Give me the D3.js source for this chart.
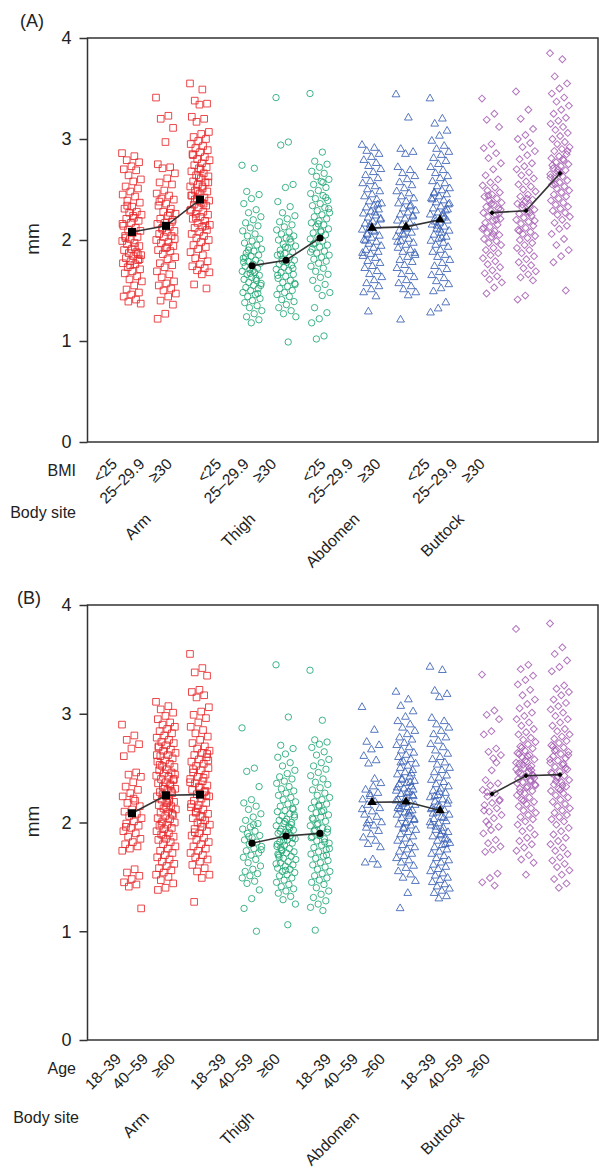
<!DOCTYPE html>
<html>
<head>
<meta charset="utf-8">
<script src="https://cdn.jsdelivr.net/npm/d3@7"></script>
<style>
  body { margin: 0; background: #fff; }
  svg text { font-family: "Liberation Sans", Arial, Helvetica, sans-serif; fill: #222; }
</style>
</head>
<body>
<svg width="599" height="1173"></svg>
<script>
const sites = ["Arm", "Thigh", "Abdomen", "Buttock"];
const bmiLevels = ["<25", "25–29.9", "≥30"];
const ageLevels = ["18–39", "40–59", "≥60"];
const yTicks = [0, 1, 2, 3, 4];

// (A) thickness by BMI, one list per BMI group
const armBmi = [
  [2.86,2.83,2.79,2.77,2.73,2.70,2.69,2.64,2.60,2.58,2.53,2.51,2.48,2.45,2.43,2.39,2.37,2.33,2.31,2.28,2.27,2.25,2.22,2.21,2.19,2.17,2.14,2.12,2.10,2.09,2.07,2.04,2.03,2.01,1.99,1.97,1.96,1.94,1.91,1.90,1.88,1.87,1.85,1.84,1.82,1.80,1.79,1.77,1.76,1.73,1.71,1.69,1.67,1.64,1.61,1.59,1.55,1.51,1.48,1.46,1.44,1.41,1.39,1.37,2.24,2.02,1.86,1.75,2.16,1.93,2.34,1.81],
  [3.41,3.23,3.20,3.11,2.97,2.75,2.72,2.71,2.66,2.61,2.57,2.55,2.49,2.46,2.44,2.41,2.40,2.36,2.34,2.31,2.28,2.26,2.24,2.21,2.20,2.17,2.16,2.13,2.11,2.09,2.08,2.06,2.04,2.03,2.00,1.98,1.97,1.94,1.92,1.90,1.89,1.86,1.83,1.81,1.77,1.75,1.73,1.69,1.66,1.63,1.59,1.57,1.55,1.52,1.50,1.47,1.44,1.40,1.36,1.27,1.22,2.27,2.12,2.01,1.93,2.38,2.18],
  [3.55,3.49,3.38,3.35,3.34,3.22,3.20,3.17,3.07,3.05,3.02,3.00,2.98,2.95,2.93,2.91,2.89,2.87,2.85,2.82,2.80,2.79,2.76,2.74,2.72,2.71,2.68,2.66,2.64,2.63,2.61,2.58,2.57,2.55,2.53,2.51,2.49,2.48,2.46,2.44,2.42,2.41,2.39,2.37,2.35,2.34,2.32,2.30,2.28,2.26,2.25,2.23,2.21,2.19,2.17,2.15,2.13,2.12,2.10,2.08,2.06,2.04,2.02,2.00,1.98,1.95,1.93,1.91,1.88,1.85,1.82,1.79,1.76,1.74,1.72,1.70,1.68,1.66,1.56,1.52,2.62,2.44,2.36,2.22,2.57,2.70,2.84,2.14,2.48,2.29,2.53,2.40]
];
const thighBmi = [
  [2.74,2.71,2.48,2.45,2.41,2.36,2.30,2.27,2.23,2.20,2.17,2.14,2.12,2.09,2.06,2.04,2.01,1.99,1.97,1.95,1.93,1.91,1.89,1.87,1.85,1.84,1.82,1.80,1.79,1.77,1.76,1.74,1.72,1.71,1.69,1.68,1.66,1.65,1.63,1.61,1.60,1.58,1.57,1.55,1.53,1.52,1.50,1.48,1.46,1.44,1.42,1.40,1.38,1.35,1.33,1.30,1.27,1.24,1.21,1.18,1.78,1.62,1.90,1.55,1.70,1.83,1.47,1.67],
  [3.41,2.97,2.94,2.55,2.52,2.38,2.33,2.27,2.24,2.21,2.18,2.15,2.13,2.10,2.08,2.06,2.04,2.02,2.00,1.98,1.96,1.94,1.92,1.90,1.88,1.87,1.85,1.83,1.81,1.80,1.78,1.76,1.75,1.73,1.71,1.70,1.68,1.66,1.64,1.62,1.60,1.58,1.56,1.54,1.52,1.50,1.48,1.46,1.44,1.41,1.39,1.36,1.33,1.30,1.27,1.24,0.99,1.86,1.72,1.93,1.65,2.01,1.79,1.57],
  [3.45,2.87,2.78,2.75,2.72,2.68,2.66,2.63,2.60,2.58,2.55,2.52,2.49,2.46,2.44,2.41,2.39,2.36,2.34,2.32,2.29,2.27,2.25,2.23,2.21,2.19,2.17,2.15,2.13,2.11,2.09,2.07,2.05,2.03,2.01,1.99,1.97,1.95,1.93,1.91,1.89,1.87,1.85,1.83,1.81,1.79,1.77,1.74,1.72,1.69,1.66,1.63,1.60,1.56,1.52,1.48,1.45,1.33,1.28,1.22,1.18,1.05,1.02,2.31,2.08,1.96,2.42,2.16,1.88,2.57]
];
const abdomenBmi = [
  [2.94,2.91,2.88,2.85,2.82,2.79,2.76,2.73,2.70,2.67,2.64,2.61,2.58,2.56,2.53,2.50,2.48,2.45,2.43,2.40,2.38,2.36,2.34,2.32,2.30,2.28,2.26,2.24,2.22,2.20,2.18,2.16,2.14,2.12,2.10,2.08,2.06,2.04,2.02,2.00,1.98,1.96,1.94,1.92,1.90,1.88,1.86,1.84,1.82,1.79,1.77,1.74,1.72,1.69,1.66,1.63,1.60,1.57,1.54,1.51,1.48,1.44,1.29,2.21,2.09,1.99,2.35,2.15,1.87,2.27,2.05],
  [3.44,3.21,2.90,2.87,2.85,2.72,2.69,2.66,2.63,2.60,2.57,2.54,2.51,2.48,2.46,2.43,2.41,2.38,2.36,2.34,2.31,2.29,2.27,2.25,2.23,2.21,2.19,2.17,2.15,2.13,2.11,2.09,2.07,2.05,2.03,2.01,1.99,1.97,1.95,1.92,1.90,1.88,1.85,1.83,1.80,1.78,1.75,1.72,1.69,1.66,1.63,1.60,1.57,1.54,1.51,1.48,1.45,1.21,2.24,2.12,1.98,2.33,2.06,1.87],
  [3.40,3.20,3.15,3.08,3.03,2.98,2.93,2.90,2.87,2.84,2.81,2.78,2.75,2.72,2.69,2.66,2.63,2.61,2.58,2.56,2.53,2.51,2.49,2.47,2.45,2.43,2.41,2.39,2.37,2.35,2.33,2.31,2.29,2.27,2.25,2.23,2.21,2.19,2.17,2.15,2.13,2.11,2.09,2.07,2.05,2.03,2.01,1.99,1.97,1.95,1.93,1.90,1.88,1.85,1.83,1.80,1.77,1.74,1.71,1.68,1.65,1.62,1.59,1.56,1.52,1.49,1.38,1.32,1.28,2.26,2.18,2.30,2.10,2.40,2.22,2.14,2.36,2.02,2.46]
];
const buttockBmi = [
  [3.40,3.25,3.19,3.12,2.95,2.91,2.86,2.81,2.76,2.70,2.64,2.60,2.57,2.54,2.52,2.49,2.47,2.45,2.43,2.41,2.39,2.37,2.35,2.33,2.31,2.29,2.27,2.25,2.23,2.21,2.19,2.17,2.15,2.13,2.11,2.09,2.07,2.05,2.03,2.01,1.99,1.97,1.95,1.92,1.90,1.87,1.85,1.82,1.79,1.76,1.73,1.70,1.67,1.64,1.61,1.58,1.53,1.47,2.26,2.36,2.12,2.20,2.44,2.30,2.06],
  [3.47,3.29,3.20,3.10,3.04,3.00,2.96,2.92,2.88,2.84,2.80,2.76,2.73,2.70,2.67,2.64,2.61,2.58,2.55,2.53,2.50,2.48,2.45,2.43,2.40,2.38,2.36,2.34,2.32,2.30,2.28,2.26,2.24,2.22,2.20,2.18,2.16,2.14,2.12,2.10,2.08,2.06,2.04,2.02,2.00,1.97,1.95,1.92,1.90,1.87,1.84,1.81,1.78,1.75,1.72,1.69,1.66,1.63,1.60,1.45,1.41,2.27,2.35,2.19,2.41,2.09],
  [3.85,3.79,3.62,3.55,3.50,3.45,3.41,3.37,3.33,3.29,3.25,3.21,3.18,3.15,3.12,3.09,3.06,3.03,3.00,2.97,2.95,2.92,2.90,2.88,2.85,2.83,2.81,2.79,2.77,2.75,2.73,2.71,2.69,2.67,2.65,2.63,2.61,2.59,2.57,2.55,2.53,2.51,2.49,2.47,2.45,2.43,2.41,2.39,2.37,2.35,2.33,2.31,2.29,2.27,2.25,2.23,2.20,2.17,2.14,2.11,2.06,2.01,1.95,1.90,1.84,1.78,1.50,2.70,2.62,2.80,2.55,2.88,2.66,2.74]
];
const bmiMeans = [[2.08, 2.14, 2.40], [1.745, 1.80, 2.02], [2.12, 2.13, 2.20], [2.27, 2.29, 2.66]];

// (B) thickness by age, one list per age group
const armAge = [
  [2.90,2.80,2.76,2.72,2.68,2.61,2.46,2.44,2.42,2.37,2.33,2.30,2.27,2.24,2.20,2.18,2.15,2.12,2.10,2.08,2.06,2.04,2.01,1.99,1.97,1.95,1.92,1.90,1.87,1.85,1.82,1.80,1.78,1.76,1.74,1.57,1.54,1.51,1.48,1.45,1.43,1.41,1.21,2.22,1.96],
  [3.11,3.07,3.04,3.01,2.98,2.95,2.92,2.90,2.88,2.86,2.84,2.82,2.80,2.78,2.76,2.74,2.73,2.71,2.69,2.67,2.66,2.64,2.62,2.61,2.59,2.57,2.56,2.54,2.52,2.51,2.49,2.48,2.46,2.45,2.43,2.42,2.40,2.39,2.37,2.36,2.34,2.33,2.31,2.30,2.28,2.27,2.25,2.24,2.22,2.21,2.19,2.18,2.16,2.15,2.13,2.12,2.10,2.09,2.07,2.06,2.04,2.03,2.01,2.00,1.98,1.97,1.95,1.94,1.92,1.90,1.89,1.87,1.85,1.84,1.82,1.80,1.78,1.76,1.74,1.72,1.70,1.68,1.66,1.64,1.62,1.60,1.58,1.56,1.54,1.52,1.50,1.47,1.44,1.40,1.38,2.35,2.26,2.44,2.18,2.53,2.08,2.31,2.62,2.20,1.99,2.40,2.14,2.70,2.29,1.88],
  [3.55,3.42,3.38,3.35,3.22,3.20,3.17,3.15,3.06,3.02,2.99,2.96,2.92,2.88,2.85,2.82,2.79,2.76,2.73,2.70,2.68,2.66,2.64,2.62,2.60,2.58,2.56,2.54,2.52,2.50,2.48,2.46,2.44,2.42,2.40,2.38,2.36,2.34,2.32,2.30,2.28,2.26,2.24,2.22,2.20,2.18,2.16,2.14,2.12,2.10,2.08,2.06,2.04,2.02,2.00,1.98,1.96,1.94,1.92,1.90,1.88,1.86,1.84,1.82,1.80,1.78,1.76,1.74,1.72,1.70,1.68,1.66,1.64,1.61,1.58,1.55,1.52,1.49,1.27,2.25,2.33,2.17,2.41,2.09,2.57,1.99,2.49,2.29,2.13,2.37,2.05,1.91,2.63]
];
const thighAge = [
  [2.87,2.50,2.47,2.33,2.21,2.18,2.15,2.12,2.08,2.05,2.02,1.99,1.96,1.94,1.92,1.90,1.88,1.86,1.84,1.82,1.80,1.78,1.76,1.74,1.72,1.70,1.68,1.66,1.63,1.60,1.57,1.55,1.53,1.51,1.49,1.46,1.44,1.38,1.30,1.21,1.00,1.87,1.75,1.98],
  [3.45,2.97,2.71,2.68,2.63,2.60,2.55,2.52,2.48,2.45,2.42,2.40,2.38,2.36,2.33,2.31,2.29,2.27,2.25,2.23,2.21,2.19,2.17,2.15,2.13,2.11,2.10,2.08,2.06,2.05,2.03,2.02,2.00,1.99,1.97,1.96,1.94,1.93,1.91,1.90,1.88,1.87,1.85,1.84,1.82,1.81,1.79,1.78,1.76,1.75,1.73,1.72,1.70,1.69,1.67,1.66,1.64,1.63,1.61,1.60,1.58,1.57,1.55,1.54,1.52,1.51,1.49,1.47,1.45,1.43,1.41,1.39,1.37,1.35,1.32,1.29,1.25,1.06,1.92,1.86,2.01,1.80,1.95,1.74,2.07,1.89,1.68,1.98,1.83,1.62,1.91,1.77,2.12,1.56,1.71],
  [3.40,2.94,2.76,2.74,2.72,2.69,2.65,2.62,2.58,2.55,2.52,2.49,2.46,2.43,2.40,2.37,2.35,2.32,2.30,2.27,2.25,2.23,2.21,2.19,2.17,2.15,2.13,2.11,2.09,2.07,2.05,2.03,2.01,1.99,1.97,1.95,1.93,1.91,1.89,1.87,1.85,1.83,1.81,1.79,1.77,1.75,1.73,1.71,1.69,1.67,1.65,1.63,1.61,1.59,1.57,1.55,1.53,1.51,1.49,1.47,1.45,1.43,1.40,1.37,1.34,1.31,1.28,1.25,1.22,1.19,1.01,1.94,1.88,2.04,1.82,1.98,1.76,2.10,1.92,1.70,2.16,1.86]
];
const abdomenAge = [
  [3.06,2.85,2.74,2.71,2.67,2.61,2.57,2.54,2.36,2.33,2.30,2.27,2.24,2.21,2.19,2.16,2.13,2.10,2.07,2.05,2.02,2.00,1.97,1.95,1.92,1.89,1.86,1.83,1.80,1.77,1.66,1.63,1.61,2.26,2.12,2.40,1.99],
  [3.20,3.13,3.07,3.02,2.97,2.93,2.90,2.87,2.84,2.81,2.78,2.76,2.73,2.71,2.69,2.66,2.64,2.62,2.60,2.58,2.56,2.54,2.52,2.50,2.48,2.46,2.44,2.42,2.40,2.38,2.36,2.35,2.33,2.31,2.29,2.28,2.26,2.24,2.22,2.21,2.19,2.17,2.16,2.14,2.12,2.11,2.09,2.07,2.06,2.04,2.02,2.00,1.98,1.97,1.95,1.93,1.91,1.89,1.87,1.85,1.83,1.81,1.79,1.77,1.75,1.73,1.71,1.69,1.67,1.65,1.63,1.60,1.58,1.55,1.52,1.49,1.46,1.35,1.21,2.25,2.18,2.32,2.10,2.39,2.03,2.27,2.15,2.45,1.94,2.20,2.08,2.55,2.30,1.99,2.13,2.37],
  [3.43,3.40,3.21,3.18,3.15,2.96,2.93,2.90,2.87,2.84,2.81,2.78,2.75,2.72,2.69,2.66,2.63,2.60,2.58,2.55,2.53,2.50,2.48,2.46,2.43,2.41,2.39,2.37,2.35,2.33,2.31,2.29,2.27,2.25,2.23,2.21,2.19,2.17,2.15,2.13,2.11,2.09,2.07,2.05,2.03,2.01,1.99,1.97,1.95,1.93,1.91,1.89,1.87,1.85,1.83,1.81,1.79,1.77,1.75,1.73,1.71,1.69,1.67,1.65,1.63,1.61,1.59,1.57,1.55,1.53,1.51,1.49,1.47,1.45,1.43,1.41,1.39,1.37,1.35,1.32,1.30,2.12,2.04,1.96,2.20,1.88,2.08,1.80,2.16,2.00,1.92,2.24,1.84,2.28]
];
const buttockAge = [
  [3.36,3.03,2.99,2.95,2.84,2.81,2.68,2.65,2.62,2.59,2.39,2.36,2.34,2.30,2.27,2.24,2.21,2.18,2.16,2.13,2.10,2.07,2.04,2.01,1.96,1.93,1.90,1.84,1.81,1.78,1.75,1.73,1.53,1.49,1.45,1.42,2.28,2.20,2.48,2.11,2.55,1.98],
  [3.78,3.45,3.41,3.35,3.31,3.27,3.22,3.17,3.13,3.09,3.05,3.01,2.98,2.95,2.92,2.89,2.86,2.83,2.81,2.78,2.76,2.74,2.72,2.70,2.68,2.66,2.64,2.62,2.60,2.58,2.56,2.54,2.52,2.50,2.49,2.47,2.45,2.43,2.42,2.40,2.38,2.37,2.35,2.33,2.31,2.29,2.27,2.25,2.23,2.21,2.19,2.17,2.15,2.13,2.11,2.09,2.07,2.05,2.03,2.01,1.98,1.95,1.92,1.89,1.86,1.83,1.80,1.77,1.74,1.70,1.66,1.63,1.52,2.46,2.39,2.53,2.34,2.61,2.28,2.44,2.57,2.36,2.50,2.69,2.41,2.32,2.63,2.48,2.20,2.55],
  [3.83,3.61,3.55,3.49,3.43,3.39,3.26,3.23,3.20,3.17,3.13,3.10,3.07,3.04,3.01,2.98,2.95,2.92,2.89,2.86,2.84,2.81,2.79,2.77,2.75,2.73,2.71,2.69,2.67,2.65,2.63,2.61,2.59,2.57,2.55,2.53,2.51,2.49,2.47,2.45,2.43,2.41,2.39,2.37,2.35,2.33,2.31,2.29,2.27,2.25,2.23,2.21,2.19,2.17,2.15,2.13,2.11,2.09,2.07,2.05,2.03,2.01,1.98,1.95,1.92,1.89,1.86,1.83,1.80,1.77,1.74,1.71,1.68,1.65,1.62,1.59,1.56,1.52,1.48,1.44,1.40,2.46,2.54,2.38,2.62,2.30,2.70,2.50,2.42,2.58,2.34,2.66]
];
const ageMeans = [[2.085, 2.25, 2.256], [1.81, 1.876, 1.90], [2.186, 2.19, 2.11], [2.262, 2.43, 2.44]];

const siteColors = ["#e8282b", "#1fa774", "#3a60b5", "#a55db3"];

let svg = d3.select("svg");

// marker shape per body site: square, circle, triangle, diamond (rotated square)
function marker(s, big) {
  let types = [d3.symbolSquare, d3.symbolCircle, d3.symbolTriangle, d3.symbolSquare];
  let small = [44, 32, 26, 24];
  let large = [64, 40, 40, 14];
  return d3.symbol().type(types[s]).size(big ? large[s] : small[s])();
}

// slanted label: the text's end sits on (x, y), reading up to the right
function slanted(g, x, y, txt, size) {
  g.append("text")
    .attr("transform", "translate(" + x + "," + y + ") rotate(-45)")
    .attr("text-anchor", "end")
    .style("font-size", size)
    .text(txt);
}

function drawPanel(p) {
  let y = d3.scaleLinear().domain([0, 4]).range([p.y0, p.y4]);
  let siteX = d3.scalePoint().domain(sites).range([166, 526]);
  let levelX = d3.scalePoint().domain(p.levels).range([-34, 34]);

  let g = svg.append("g");

  g.append("rect")
    .attr("x", 87.5).attr("y", p.y4)
    .attr("width", 598 - 87.5).attr("height", p.y0 - p.y4)
    .attr("fill", "none").attr("stroke", "#333").attr("stroke-width", 1.5);

  let axis = g.append("g")
    .attr("transform", "translate(87.5,0)")
    .call(d3.axisLeft(y).tickValues(yTicks).tickSize(8).tickSizeOuter(0).tickPadding(8).tickFormat(d3.format("d")));
  axis.select(".domain").remove();
  axis.selectAll("line").attr("stroke", "#333").attr("stroke-width", 1.5);
  axis.selectAll("text").style("font-size", "18px").attr("fill", "#222");

  g.append("text")
    .attr("x", p.tagX).attr("y", p.tagY)
    .style("font-size", "18px")
    .text(p.tag);

  g.append("text")
    .attr("transform", "translate(39," + y(2.01) + ") rotate(-90)")
    .attr("text-anchor", "middle")
    .style("font-size", "19px")
    .text("mm");

  // jittered points
  sites.forEach((site, s) => {
    p.groups[s].forEach((vals, k) => {
      let cx = siteX(site) + levelX(p.levels[k]);
      g.append("g").selectAll("path")
        .data(vals)
        .enter().append("path")
        .attr("d", marker(s, false))
        .attr("transform", (d, i) => {
          let jx = ((i * 0.6180339887) % 1 - 0.5) * 20;
          return "translate(" + (cx + jx) + "," + y(d) + ")" + (s === 3 ? " rotate(45)" : "");
        })
        .attr("fill", "none")
        .attr("stroke", siteColors[s])
        .attr("stroke-opacity", 0.85)
        .attr("stroke-width", 1);
    });
  });

  // group means joined within each site
  let line = d3.line()
    .x(d => d.x)
    .y(d => y(d.v));

  sites.forEach((site, s) => {
    let pts = p.means[s].map((v, k) => ({ x: siteX(site) + levelX(p.levels[k]), v: v }));
    g.append("path")
      .attr("d", line(pts))
      .attr("fill", "none")
      .attr("stroke", "#333")
      .attr("stroke-width", 1.6);
    g.selectAll(null)
      .data(pts)
      .enter().append("path")
      .attr("d", marker(s, true))
      .attr("transform", d => "translate(" + d.x + "," + y(d.v) + ")" + (s === 3 ? " rotate(45)" : ""))
      .attr("fill", "#000");
  });

  // x labels
  let labSite = d3.scalePoint().domain(sites).range([p.levLab0, p.levLab0 + 3 * p.labStep]);
  let labLevel = d3.scalePoint().domain(p.levels).range([0, p.levSpan]);
  let siteLab = d3.scalePoint().domain(sites).range([p.siteLab0, p.siteLab0 + 3 * p.labStep]);

  g.append("text")
    .attr("x", 76).attr("y", p.rowY)
    .attr("text-anchor", "end")
    .style("font-size", "16px")
    .text(p.rowLabel);

  g.append("text")
    .attr("x", p.siteRowX).attr("y", p.siteRowY)
    .attr("text-anchor", "end")
    .style("font-size", "16px")
    .text("Body site");

  sites.forEach(site => {
    p.levels.forEach(lev => {
      slanted(g, labSite(site) + labLevel(lev), p.levLabY, lev, "15.5px");
    });
    slanted(g, siteLab(site), p.siteLabY, site, "16px");
  });
}

drawPanel({
  tag: "(A)", tagX: 20, tagY: 27,
  y0: 442, y4: 38,
  levels: bmiLevels, groups: [armBmi, thighBmi, abdomenBmi, buttockBmi], means: bmiMeans,
  rowLabel: "BMI", rowY: 476, siteRowX: 76, siteRowY: 518,
  levLab0: 118, levSpan: 55, labStep: 104.3, levLabY: 465,
  siteLab0: 152, siteLabY: 520
});

drawPanel({
  tag: "(B)", tagX: 17, tagY: 604,
  y0: 1040, y4: 605,
  levels: ageLevels, groups: [armAge, thighAge, abdomenAge, buttockAge], means: ageMeans,
  rowLabel: "Age", rowY: 1074, siteRowX: 79, siteRowY: 1123,
  levLab0: 122, levSpan: 54, labStep: 105, levLabY: 1060,
  siteLab0: 150, siteLabY: 1118
});
</script>
</body>
</html>
